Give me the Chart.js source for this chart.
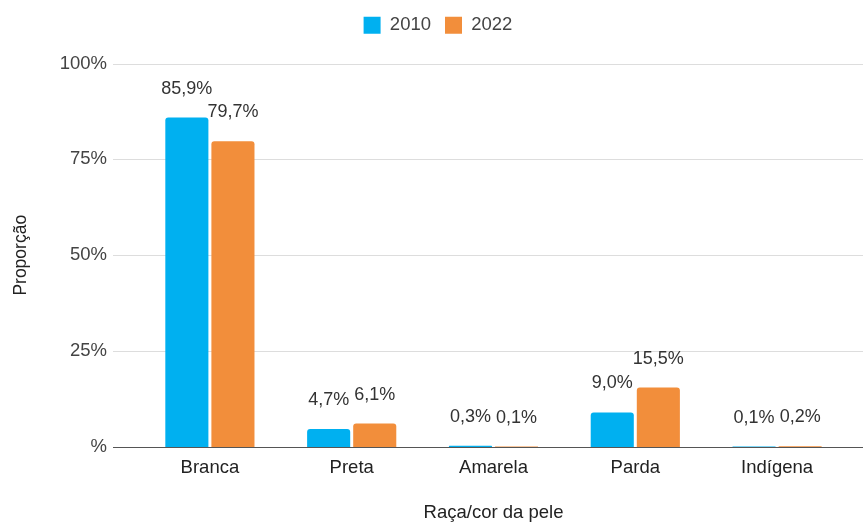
<!DOCTYPE html>
<html>
<head>
<meta charset="utf-8">
<script src="https://cdn.jsdelivr.net/npm/chart.js@4"></script>
<style>
  body { margin: 0; background: #fff; }
  #wrap { width: 863px; height: 525px; }
</style>
</head>
<body>
<div id="wrap"><canvas id="barChart" width="863" height="525"></canvas></div>
<script>
// data
const categories = ["Branca", "Preta", "Amarela", "Parda", "Indígena"];
const seriesNames = ["2010", "2022"];
const values2010 = [85.9, 4.7, 0.3, 9.0, 0.1];
const values2022 = [79.7, 6.1, 0.1, 15.5, 0.2];
const yTickLabels = ["%", "25%", "50%", "75%", "100%"];

const FONT = "'Liberation Sans', Arial, sans-serif";
Chart.defaults.font.family = FONT;
Chart.defaults.font.size = 18.5;
Chart.defaults.color = "#444";

const fmt = (v) => v.toFixed(1).replace(".", ",") + "%";

// extra room under the legend
const legendGap = {
  id: "legendGap",
  afterInit(chart) {
    const origFit = chart.legend.fit;
    chart.legend.fit = function () {
      origFit.bind(this)();
      this.height += 19;
    };
  },
};

// horizontal grid lines that run past the category area, like the source
const gridPlugin = {
  id: "wideGrid",
  beforeDatasetsDraw(chart) {
    const { ctx } = chart;
    const y = chart.scales.y;
    ctx.save();
    ctx.lineWidth = 1;
    y.ticks.forEach((t) => {
      const py = Math.round(y.getPixelForValue(t.value)) + 0.5;
      ctx.strokeStyle = t.value === 0 ? "#555" : "#ddd";
      ctx.beginPath();
      ctx.moveTo(113, py);
      ctx.lineTo(chart.width, py);
      ctx.stroke();
    });
    ctx.restore();
  },
};

// value labels above each bar
const labelPlugin = {
  id: "barLabels",
  afterDatasetsDraw(chart) {
    const { ctx } = chart;
    ctx.save();
    ctx.font = "18px " + FONT;
    ctx.fillStyle = "#333";
    ctx.textAlign = "center";
    ctx.textBaseline = "middle";
    chart.data.datasets.forEach((ds, i) => {
      chart.getDatasetMeta(i).data.forEach((bar, j) => {
        ctx.fillText(fmt(ds.data[j]), bar.x, bar.y - 29);
      });
    });
    ctx.restore();
  },
};

new Chart(document.getElementById("barChart"), {
  type: "bar",
  data: {
    labels: categories,
    datasets: [
      {
        label: seriesNames[0],
        data: values2010,
        backgroundColor: "#00B0F0",
        borderRadius: 3,
        categoryPercentage: 0.65,
        barPercentage: 0.935,
      },
      {
        label: seriesNames[1],
        data: values2022,
        backgroundColor: "#F28E3B",
        borderRadius: 3,
        categoryPercentage: 0.65,
        barPercentage: 0.935,
      },
    ],
  },
  options: {
    responsive: false,
    animation: false,
    layout: { padding: { left: 28, right: 15, top: 2, bottom: 0 } },
    plugins: {
      legend: {
        position: "top",
        labels: {
          boxWidth: 17,
          boxHeight: 17,
          padding: 14,
          color: "#444",
          font: { size: 18.5 },
        },
      },
      tooltip: { enabled: false },
    },
    scales: {
      x: {
        grid: { display: false },
        border: { display: false },
        ticks: { color: "#222", padding: 2 },
        title: {
          display: true,
          text: "Raça/cor da pele",
          color: "#222",
          padding: { top: 0, bottom: 1 },
        },
        afterFit: (scale) => { scale.height = 78; },
      },
      y: {
        min: 0,
        max: 100,
        ticks: {
          stepSize: 25,
          padding: 32,
          color: "#444",
          callback: (v, i) => yTickLabels[i],
        },
        grid: { display: false, drawTicks: false },
        border: { display: false },
        title: {
          display: true,
          text: "Proporção",
          color: "#222",
          font: { size: 17.5 },
          padding: { top: -17, bottom: 0 },
        },
        afterFit: (scale) => { scale.width = 111; },
      },
    },
  },
  plugins: [legendGap, gridPlugin, labelPlugin],
});
</script>
</body>
</html>
